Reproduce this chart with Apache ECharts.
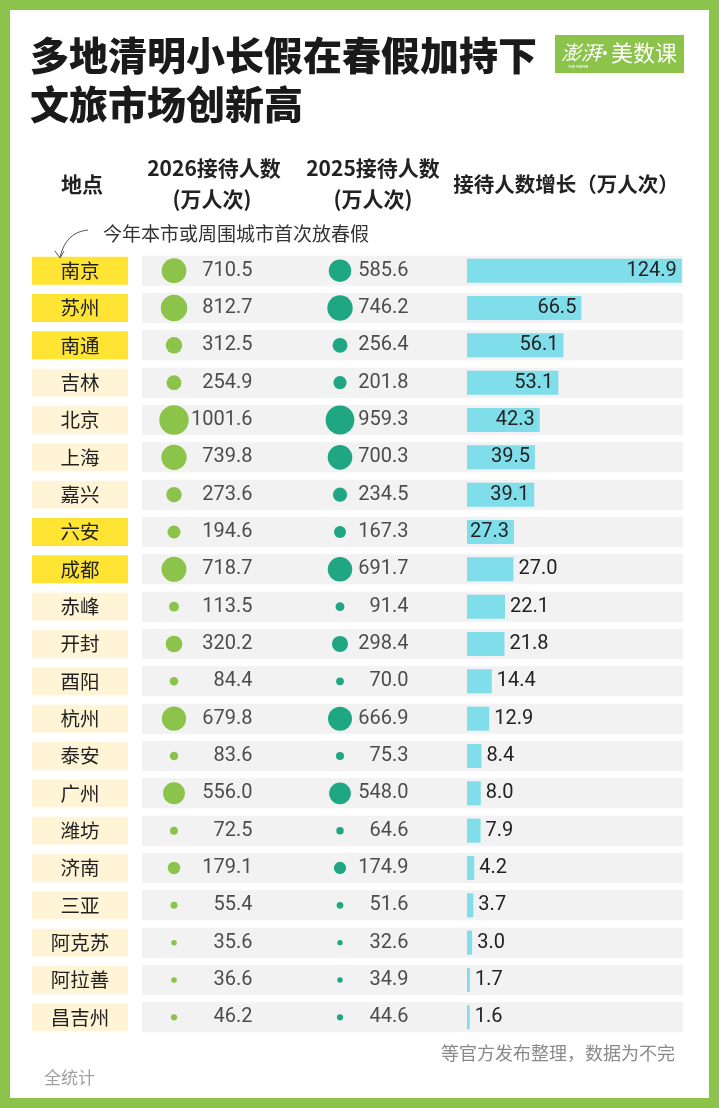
<!DOCTYPE html>
<html>
<head>
<meta charset="utf-8">
<script src="https://cdn.jsdelivr.net/npm/echarts@6/dist/echarts.min.js"></script>
<style>
html,body{margin:0;padding:0;background:#8cc34b;}
#chart{width:719px;height:1108px;}
</style>
</head>
<body>
<div id="chart"></div>
<script>
// ---- data ----
const cities = ['南京','苏州','南通','吉林','北京','上海','嘉兴','六安','成都','赤峰','开封','酉阳','杭州','泰安','广州','潍坊','济南','三亚','阿克苏','阿拉善','昌吉州'];
const visitors2026 = [710.5,812.7,312.5,254.9,1001.6,739.8,273.6,194.6,718.7,113.5,320.2,84.4,679.8,83.6,556.0,72.5,179.1,55.4,35.6,36.6,46.2];
const visitors2025 = [585.6,746.2,256.4,201.8,959.3,700.3,234.5,167.3,691.7,91.4,298.4,70.0,666.9,75.3,548.0,64.6,174.9,51.6,32.6,34.9,44.6];
const growth = [124.9,66.5,56.1,53.1,42.3,39.5,39.1,27.3,27.0,22.1,21.8,14.4,12.9,8.4,8.0,7.9,4.2,3.7,3.0,1.7,1.6];
const firstSpringBreak = ['南京','苏州','南通','六安','成都'];

const titleLines = ['多地清明小长假在春假加持下','文旅市场创新高'];
const headers = {place:'地点', y2026:['2026接待人数','(万人次)'], y2025:['2025接待人数','(万人次)'], growth:'接待人数增长（万人次）'};
const note = '今年本市或周围城市首次放春假';
const sourceLine1 = '等官方发布整理，数据为不完';
const sourceLine2 = '全统计';
const logoParts = ['澎湃', '•', '美数课'];

// ---- style ----
const CJK = "'Noto Sans CJK SC', sans-serif";
const NUM = "Roboto, 'Noto Sans', sans-serif";
const GREEN = '#8cc34b';
const TEAL = '#1fa783';
const CYAN = '#80deea';
const YELLOW = '#ffe433';
const CREAM = '#fff5d6';
const BAND = '#f2f2f2';
const TEXT = '#222222';
const INSIDE_LABEL_MIN = 27.1;

const TOP = 252, HEIGHT = 784;
const columns = [
  {left:32, width:96},   // 0 names
  {left:142, width:541}, // 1 bands
  {left:160, width:28},  // 2 circles 2026
  {left:243, width:20},  // 3 labels 2026
  {left:326, width:28},  // 4 circles 2025
  {left:399, width:20},  // 5 labels 2025
  {left:467, width:215}  // 6 growth bars
];
const grid = columns.map(c => ({left:c.left, width:c.width, top:TOP, height:HEIGHT, containLabel:false}));
const xAxis = columns.map((c,i) => {
  if (i === 0 || i === 1) return {gridIndex:i, type:'value', min:0, max:1, show:false};
  if (i === 6) return {gridIndex:i, type:'value', min:0, max:125, show:false};
  return {gridIndex:i, type:'category', data:['c'], show:false};
});
const yAxis = columns.map((c,i) => ({gridIndex:i, type:'category', data:cities, inverse:true, show:false}));

const sizeOf = v => 0.93 * Math.sqrt(v);

const series = [
  {
    type:'bar', xAxisIndex:0, yAxisIndex:0, barWidth:28, silent:true,
    data: cities.map(c => ({value:1, itemStyle:{color: firstSpringBreak.includes(c) ? YELLOW : CREAM}})),
    label:{show:true, position:'inside', color:TEXT, fontSize:19.5, fontFamily:CJK,
      formatter: p => cities[p.dataIndex]}
  },
  {
    type:'bar', xAxisIndex:1, yAxisIndex:1, barWidth:30, silent:true,
    data: cities.map(() => 1), itemStyle:{color:BAND}
  },
  {
    type:'scatter', xAxisIndex:2, yAxisIndex:2, silent:true,
    data: visitors2026.map((v,i) => [0, i, v]),
    symbolSize: d => sizeOf(d[2]), itemStyle:{color:GREEN, opacity:1}
  },
  {
    type:'scatter', xAxisIndex:3, yAxisIndex:3, silent:true,
    data: visitors2026.map((v,i) => [0, i, v]),
    symbolSize:1, itemStyle:{color:'rgba(0,0,0,0)'},
    label:{show:true, position:'left', distance:0, color:TEXT, fontSize:20, fontFamily:NUM,
      formatter: p => p.value[2].toFixed(1)}
  },
  {
    type:'scatter', xAxisIndex:4, yAxisIndex:4, silent:true,
    data: visitors2025.map((v,i) => [0, i, v]),
    symbolSize: d => sizeOf(d[2]), itemStyle:{color:TEAL, opacity:1}
  },
  {
    type:'scatter', xAxisIndex:5, yAxisIndex:5, silent:true,
    data: visitors2025.map((v,i) => [0, i, v]),
    symbolSize:1, itemStyle:{color:'rgba(0,0,0,0)'},
    label:{show:true, position:'left', distance:0, color:TEXT, fontSize:20, fontFamily:NUM,
      formatter: p => p.value[2].toFixed(1)}
  },
  {
    type:'bar', xAxisIndex:6, yAxisIndex:6, barWidth:24, silent:true,
    itemStyle:{color:CYAN},
    data: growth.map(v => ({value:v, label:{position: v >= INSIDE_LABEL_MIN ? 'insideRight' : 'right'}})),
    label:{show:true, distance:5, color:TEXT, fontSize:20, fontFamily:NUM,
      formatter: p => p.value.toFixed(1)}
  }
];

const hdr = (text, x, y, size, align) => ({type:'text', x, y, z:10,
  style:{text, fill:TEXT, font:`bold ${size}px ${CJK}`, textAlign:align||'center', textVerticalAlign:'middle'}});

const graphic = [
  {type:'rect', z:-100, shape:{x:10, y:10, width:699, height:1088}, style:{fill:'#ffffff'}},
  {type:'text', x:30, y:55, z:10, style:{text:titleLines[0], fill:'#1a1a1a', font:`900 39px ${CJK}`, textVerticalAlign:'middle'}},
  {type:'text', x:30, y:104, z:10, style:{text:titleLines[1], fill:'#1a1a1a', font:`900 39px ${CJK}`, textVerticalAlign:'middle'}},
  {type:'rect', z:5, shape:{x:555, y:35, width:129, height:38}, style:{fill:GREEN}},
  {type:'text', x:561, y:52, z:10, style:{text:logoParts[0], fill:'#ffffff', font:`italic 20px ${CJK}`, textAlign:'left', textVerticalAlign:'middle'}},
  {type:'text', x:605, y:54, z:10, style:{text:logoParts[1], fill:'#ffffff', font:`14px 'DejaVu Sans'`, textAlign:'center', textVerticalAlign:'middle'}},
  {type:'text', x:644, y:53, z:10, style:{text:logoParts[2], fill:'#ffffff', font:`22px ${CJK}`, textAlign:'center', textVerticalAlign:'middle'}},
  {type:'text', x:578, y:67, z:10, style:{text:'THE PAPER', fill:'#ffffff', font:`4px ${NUM}`, textAlign:'center', textVerticalAlign:'middle'}},
  hdr(headers.place, 82, 184, 21),
  hdr(headers.y2026[0], 214, 168, 21),
  hdr(headers.y2026[1], 212, 199, 21),
  hdr(headers.y2025[0], 373, 168, 21),
  hdr(headers.y2025[1], 373, 199, 21),
  hdr(headers.growth, 566, 184, 20.5),
  {type:'text', x:103, y:234, z:10, style:{text:note, fill:'#333', font:`19px ${CJK}`, textVerticalAlign:'middle'}},
  {type:'bezierCurve', z:10, shape:{x1:88, y1:230, x2:60, y2:257, cpx1:66, cpy1:232}, style:{stroke:'#555', lineWidth:1, fill:null}},
  {type:'polyline', z:10, shape:{points:[[55,251],[60,258],[64,251]]}, style:{stroke:'#555', lineWidth:1, fill:null}},
  {type:'text', x:675, y:1053, z:10, style:{text:sourceLine1, fill:'#8a8a8a', font:`18px ${CJK}`, textAlign:'right', textVerticalAlign:'middle'}},
  {type:'text', x:44, y:1078, z:10, style:{text:sourceLine2, fill:'#a0a0a0', font:`17px ${CJK}`, textVerticalAlign:'middle'}}
];

const chart = echarts.init(document.getElementById('chart'), null, {renderer:'canvas'});
chart.setOption({
  backgroundColor: GREEN,
  animation:false,
  grid, xAxis, yAxis, series, graphic
});
</script>
</body>
</html>
